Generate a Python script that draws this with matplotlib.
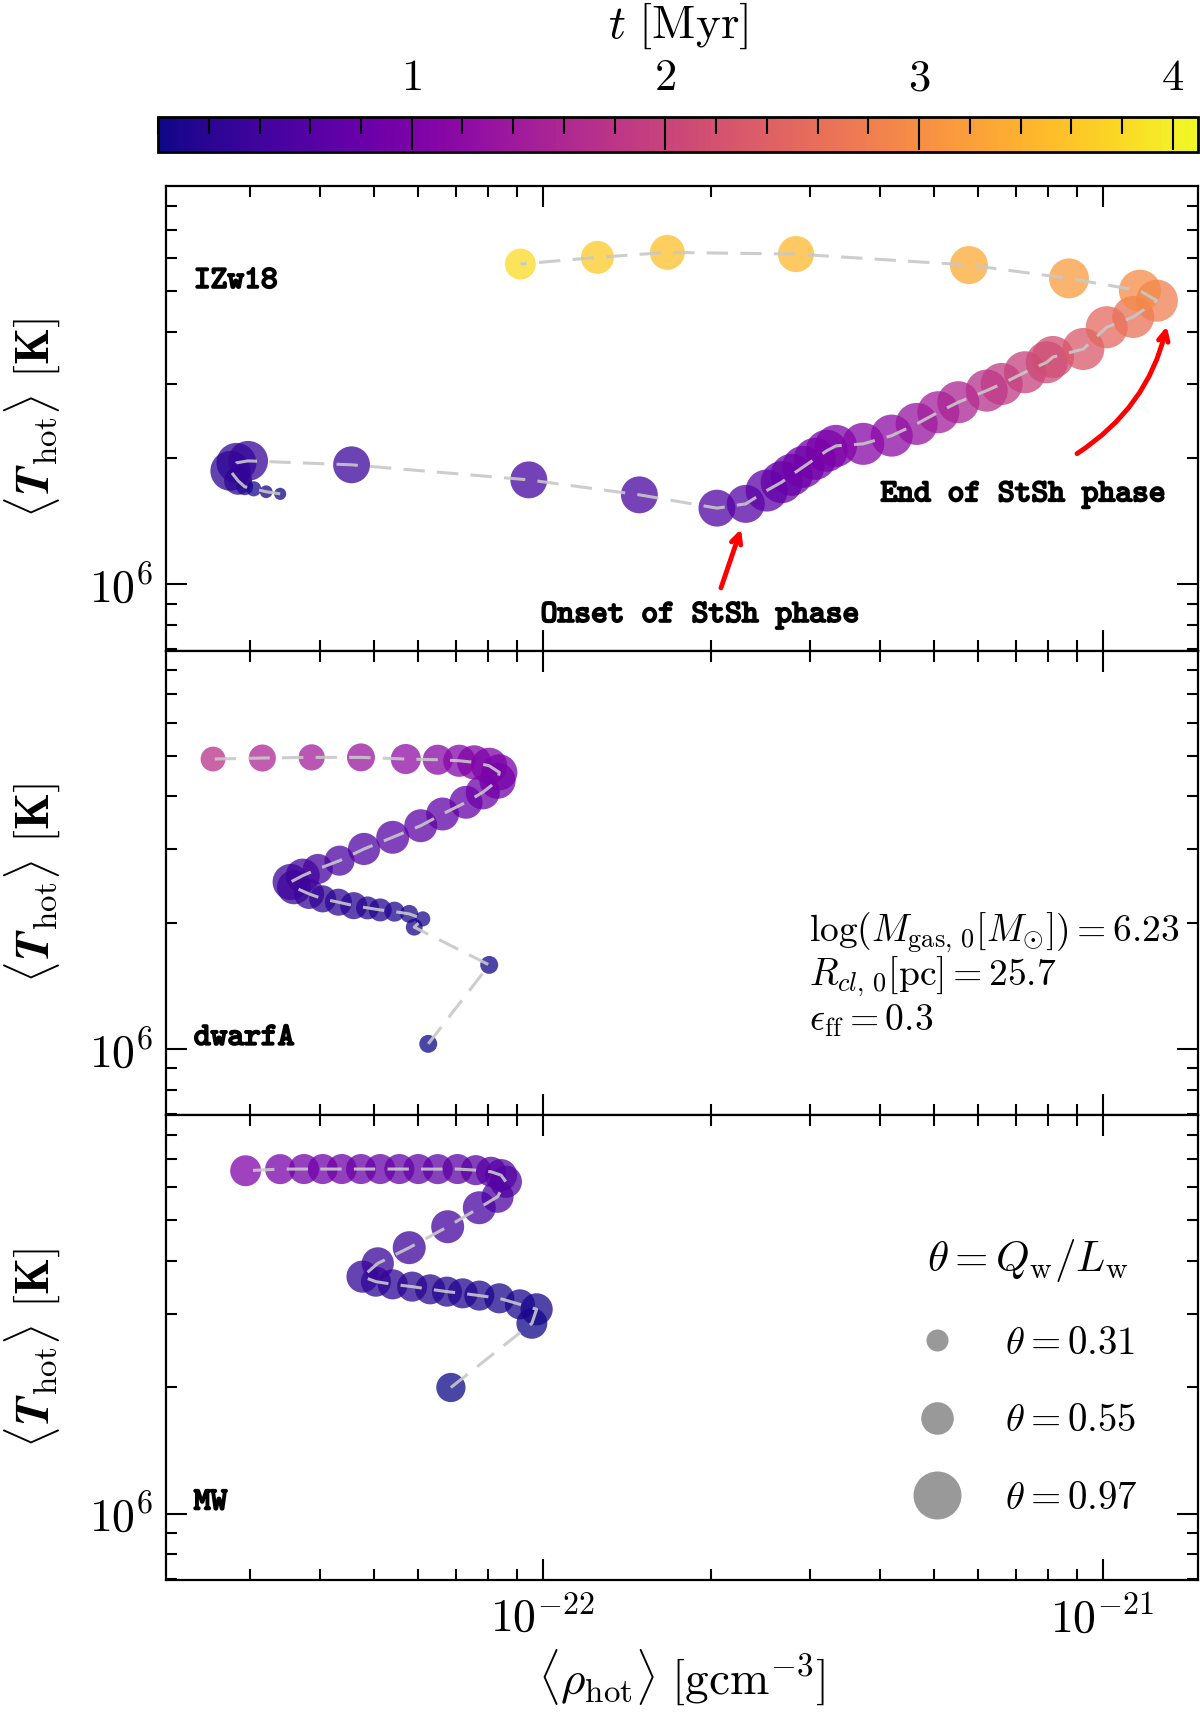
import numpy as np
import matplotlib
matplotlib.use("Agg")
import matplotlib.pyplot as plt
import matplotlib.patheffects as pe
from matplotlib.colors import Normalize
from matplotlib.ticker import LogLocator, NullFormatter, FuncFormatter, MultipleLocator
from matplotlib.lines import Line2D

plt.rcParams['mathtext.fontset'] = 'cm'
plt.rcParams['font.family'] = 'serif'
plt.rcParams['font.serif'] = ['DejaVu Serif']

# ---- data ----
# IZw18  (rho in 1e-22 g/cm^3, T in 1e6 K, t in Myr, theta = Q_w/L_w)
izw_rho = [0.340, 0.321, 0.305, 0.294, 0.286, 0.277, 0.284, 0.298, 0.456, 0.945,
           1.489, 2.048, 2.306, 2.513, 2.673, 2.785, 2.921, 3.064, 3.216, 3.341,
           3.738, 4.202, 4.656, 5.089, 5.525, 6.209, 6.604, 7.268, 7.947, 8.155,
           9.237, 10.17, 11.34, 12.50, 11.66, 8.71, 5.773, 2.835, 1.670, 1.253, 0.913]
izw_T = [1.644, 1.663, 1.690, 1.709, 1.766, 1.865, 1.949, 1.970, 1.928, 1.775,
         1.635, 1.520, 1.556, 1.674, 1.753, 1.825, 1.906, 1.992, 2.082, 2.139,
         2.163, 2.263, 2.413, 2.573, 2.718, 2.897, 3.005, 3.204, 3.384, 3.484,
         3.640, 4.102, 4.340, 4.746, 5.012, 5.363, 5.770, 6.129, 6.186, 6.019, 5.802]
izw_t = [0.02, 0.05, 0.08, 0.11, 0.15, 0.20, 0.25, 0.30, 0.35, 0.42,
         0.48, 0.55, 0.60, 0.68, 0.75, 0.80, 0.85, 0.90, 0.95, 1.00,
         1.10, 1.20, 1.30, 1.45, 1.55, 1.70, 1.85, 1.95, 2.05, 2.15,
         2.30, 2.50, 2.65, 2.80, 2.95, 3.15, 3.30, 3.45, 3.55, 3.65, 3.80]
izw_theta = [0.13, 0.14, 0.18, 0.21, 0.44, 0.74, 0.74, 0.74, 0.66, 0.66,
             0.66, 0.66, 0.69, 0.80, 0.80, 0.80, 0.80, 0.80, 0.80, 0.80,
             0.80, 0.80, 0.80, 0.80, 0.80, 0.80, 0.80, 0.80, 0.80, 0.80,
             0.80, 0.80, 0.80, 0.80, 0.80, 0.74, 0.69, 0.64, 0.61, 0.56, 0.51]

# dwarfA
dwa_rho = [0.625, 0.803, 0.590, 0.611, 0.578, 0.544, 0.513, 0.487, 0.460, 0.432,
           0.405, 0.383, 0.360, 0.355, 0.373, 0.397, 0.434, 0.480, 0.540, 0.606,
           0.663, 0.730, 0.782, 0.831, 0.837, 0.803, 0.755, 0.710, 0.650, 0.570,
           0.474, 0.387, 0.316, 0.258]
dwa_T = [1.029, 1.587, 1.952, 2.043, 2.100, 2.126, 2.146, 2.170, 2.197, 2.239,
         2.280, 2.343, 2.431, 2.502, 2.590, 2.687, 2.812, 2.999, 3.197, 3.407,
         3.633, 3.874, 4.092, 4.360, 4.566, 4.734, 4.823, 4.866, 4.893, 4.912,
         4.957, 4.957, 4.939, 4.912]
dwa_t = [0.01, 0.03, 0.05, 0.07, 0.09, 0.11, 0.13, 0.15, 0.18, 0.21,
         0.24, 0.28, 0.32, 0.36, 0.40, 0.45, 0.50, 0.55, 0.60, 0.66,
         0.72, 0.78, 0.84, 0.90, 0.95, 1.00, 1.04, 1.08, 1.13, 1.22,
         1.35, 1.47, 1.60, 1.75]
dwa_theta = [0.23, 0.23, 0.21, 0.18, 0.23, 0.27, 0.33, 0.33, 0.42, 0.42,
             0.42, 0.49, 0.59, 0.64, 0.59, 0.49, 0.49, 0.54, 0.56, 0.56,
             0.56, 0.56, 0.59, 0.64, 0.64, 0.64, 0.59, 0.54, 0.49, 0.49,
             0.44, 0.40, 0.42, 0.37]

# MW
mw_rho = [0.686, 0.957, 0.976, 0.911, 0.837, 0.771, 0.720, 0.675, 0.630, 0.585,
          0.540, 0.504, 0.477, 0.508, 0.578, 0.677, 0.771, 0.831, 0.860, 0.843,
          0.809, 0.760, 0.705, 0.650, 0.600, 0.555, 0.513, 0.474, 0.438, 0.405,
          0.375, 0.340, 0.295]
mw_T = [1.999, 2.843, 3.070, 3.155, 3.261, 3.310, 3.351, 3.383, 3.426, 3.477,
        3.521, 3.573, 3.673, 3.951, 4.306, 4.831, 5.361, 5.694, 6.183, 6.411,
        6.531, 6.589, 6.629, 6.626, 6.629, 6.629, 6.629, 6.629, 6.629, 6.629,
        6.629, 6.626, 6.568]
mw_t = [0.01, 0.03, 0.05, 0.07, 0.09, 0.11, 0.13, 0.15, 0.17, 0.19,
        0.21, 0.24, 0.27, 0.31, 0.36, 0.42, 0.48, 0.52, 0.55, 0.58,
        0.61, 0.64, 0.67, 0.70, 0.73, 0.76, 0.79, 0.82, 0.85, 0.88,
        0.91, 0.95, 1.03]
mw_theta = [0.47, 0.51, 0.54, 0.49, 0.49, 0.49, 0.49, 0.49, 0.49, 0.49,
            0.49, 0.49, 0.54, 0.54, 0.56, 0.56, 0.56, 0.54, 0.54, 0.54,
            0.49, 0.49, 0.49, 0.49, 0.49, 0.49, 0.49, 0.49, 0.49, 0.49,
            0.49, 0.49, 0.51]

cloud_names = ['IZw18', 'dwarfA', 'MW']
legend_theta = [0.31, 0.55, 0.97]

t_min, t_max = 0.0, 4.1
norm = Normalize(t_min, t_max)


def theta_size(th):
    d_px = 48 * (np.asarray(th, dtype=float) / 0.97) ** 0.684
    return (0.72 * d_px) ** 2


def log_label(v, pos):
    return r'$10^{%d}$' % int(round(np.log10(v)))


tt_style = dict(family='cmtt10', fontsize=23,
                path_effects=[pe.withStroke(linewidth=1.4, foreground='black')])

fig = plt.figure(figsize=(12, 17.12), dpi=100)
left, width, h = 0.1383, 0.8600, 0.2714
bottoms = [0.6199, 0.3485, 0.0771]

ax0 = fig.add_axes([left, bottoms[0], width, h])
ax1 = fig.add_axes([left, bottoms[1], width, h], sharex=ax0, sharey=ax0)
ax2 = fig.add_axes([left, bottoms[2], width, h], sharex=ax0, sharey=ax0)
axes = [ax0, ax1, ax2]

clouds = [(izw_rho, izw_T, izw_t, izw_theta),
          (dwa_rho, dwa_T, dwa_t, dwa_theta),
          (mw_rho, mw_T, mw_t, mw_theta)]

for ax, (rho, T, t, th), name in zip(axes, clouds, cloud_names):
    rho = np.array(rho) * 1e-22
    T = np.array(T) * 1e6
    ax.scatter(rho, T, s=theta_size(th), c=t, cmap='plasma', norm=norm,
               alpha=0.75, edgecolors='none', zorder=2)
    ax.plot(rho, T, color='#c8c8c8', ls=(0, (7, 4)), lw=2.2, alpha=0.9, zorder=3)
    ax.set_xscale('log')
    ax.set_yscale('log')
    ax.set_ylabel(r'$\langle \boldsymbol{T}_{\rm hot}\rangle\ [\mathbf{K}]$', fontsize=34)
    ax.yaxis.set_label_coords(-0.100, 0.5)
    ax.text(0.027, 0.165 if name != 'IZw18' else 0.794, name, transform=ax.transAxes,
            ha='left', va='center', **tt_style)
    for s in ax.spines.values():
        s.set_linewidth(1.6)
    ax.tick_params(which='both', direction='in', top=True, right=True, width=1.5,
                   labelsize=33)
    ax.tick_params(which='major', length=15)
    ax.tick_params(which='minor', length=8)
    ax.tick_params(axis='y', pad=9)

ax0.set_xlim(2.126e-23, 1.48e-21)
ax0.set_ylim(6.95e5, 8.90e6)
for ax in axes:
    ax.xaxis.set_major_locator(LogLocator(base=10, numticks=10))
    ax.xaxis.set_minor_locator(LogLocator(base=10, subs=np.arange(2, 10), numticks=20))
    ax.yaxis.set_major_locator(LogLocator(base=10, numticks=10))
    ax.yaxis.set_minor_locator(LogLocator(base=10, subs=np.arange(2, 10), numticks=20))
    ax.xaxis.set_major_formatter(FuncFormatter(log_label))
    ax.yaxis.set_major_formatter(FuncFormatter(log_label))
    ax.xaxis.set_minor_formatter(NullFormatter())
    ax.yaxis.set_minor_formatter(NullFormatter())
ax0.tick_params(labelbottom=False)
ax1.tick_params(labelbottom=False)
ax2.tick_params(axis='x', pad=12)
ax2.set_xlabel(r'$\langle \rho_{\rm hot}\rangle\ [{\rm gcm}^{-3}]$', fontsize=34, labelpad=4)

# annotations in top panel
arrow_kw = dict(color='red', lw=3.5, shrinkA=0, shrinkB=0)
ax0.annotate('', xy=(0.5572, 0.2618), xytext=(0.5378, 0.1352), xycoords='axes fraction',
             arrowprops=dict(arrowstyle='->,head_width=0.35,head_length=0.7', **arrow_kw))
ax0.text(0.5174, 0.0751, 'Onset of StSh phase', transform=ax0.transAxes, ha='center',
         va='center', **tt_style)
ax0.annotate('', xy=(0.9698, 0.6981), xytext=(0.8828, 0.4242), xycoords='axes fraction',
             arrowprops=dict(arrowstyle='->,head_width=0.35,head_length=0.7',
                             connectionstyle='arc3,rad=0.2', **arrow_kw))
ax0.text(0.8304, 0.3348, 'End of StSh phase', transform=ax0.transAxes, ha='center',
         va='center', **tt_style)

# parameters text in middle panel
param_lines = [r'$\log(M_{\rm gas,\,0}[M_{\odot}])=6.23$',
               r'$R_{cl,\,0}[{\rm pc}]=25.7$',
               r'$\epsilon_{\rm ff}=0.3$']
for i, s in enumerate(param_lines):
    ax1.text(0.623, 0.393 - 0.095 * i, s, transform=ax1.transAxes, ha='left',
             va='center', fontsize=27)

# theta size legend in bottom panel
handles = [Line2D([], [], marker='o', ls='none', color='#999999', markeredgewidth=0,
                  markersize=np.sqrt(theta_size(v))) for v in legend_theta]
labels = [r'$\theta=%.2f$' % v for v in legend_theta]
ax2.legend(handles, labels, title=r'$\theta=Q_{\rm w}/L_{\rm w}$', frameon=False,
           loc='center', bbox_to_anchor=(0.835, 0.437), fontsize=28, title_fontsize=31,
           labelspacing=1.04, handlelength=1.0, handletextpad=1.25)

# colorbar
cax = fig.add_axes([0.1317, 0.9112, 0.8667, 0.0204])
sm = plt.cm.ScalarMappable(norm=norm, cmap='plasma')
cb = fig.colorbar(sm, cax=cax, orientation='horizontal')
cax.xaxis.set_ticks_position('top')
cax.xaxis.set_label_position('top')
cb.set_ticks([1, 2, 3, 4])
cb.set_ticklabels([r'$1$', r'$2$', r'$3$', r'$4$'])
cax.xaxis.set_minor_locator(MultipleLocator(0.2))
cax.tick_params(which='both', direction='in', top=True, bottom=False, width=1.5,
                labelsize=32, pad=13)
cax.tick_params(which='major', length=24)
cax.tick_params(which='minor', length=12)
cb.outline.set_linewidth(2)
cb.set_label(r'$t\ [{\rm Myr}]$', fontsize=34, labelpad=13)

fig.savefig('out.png', dpi=100)
